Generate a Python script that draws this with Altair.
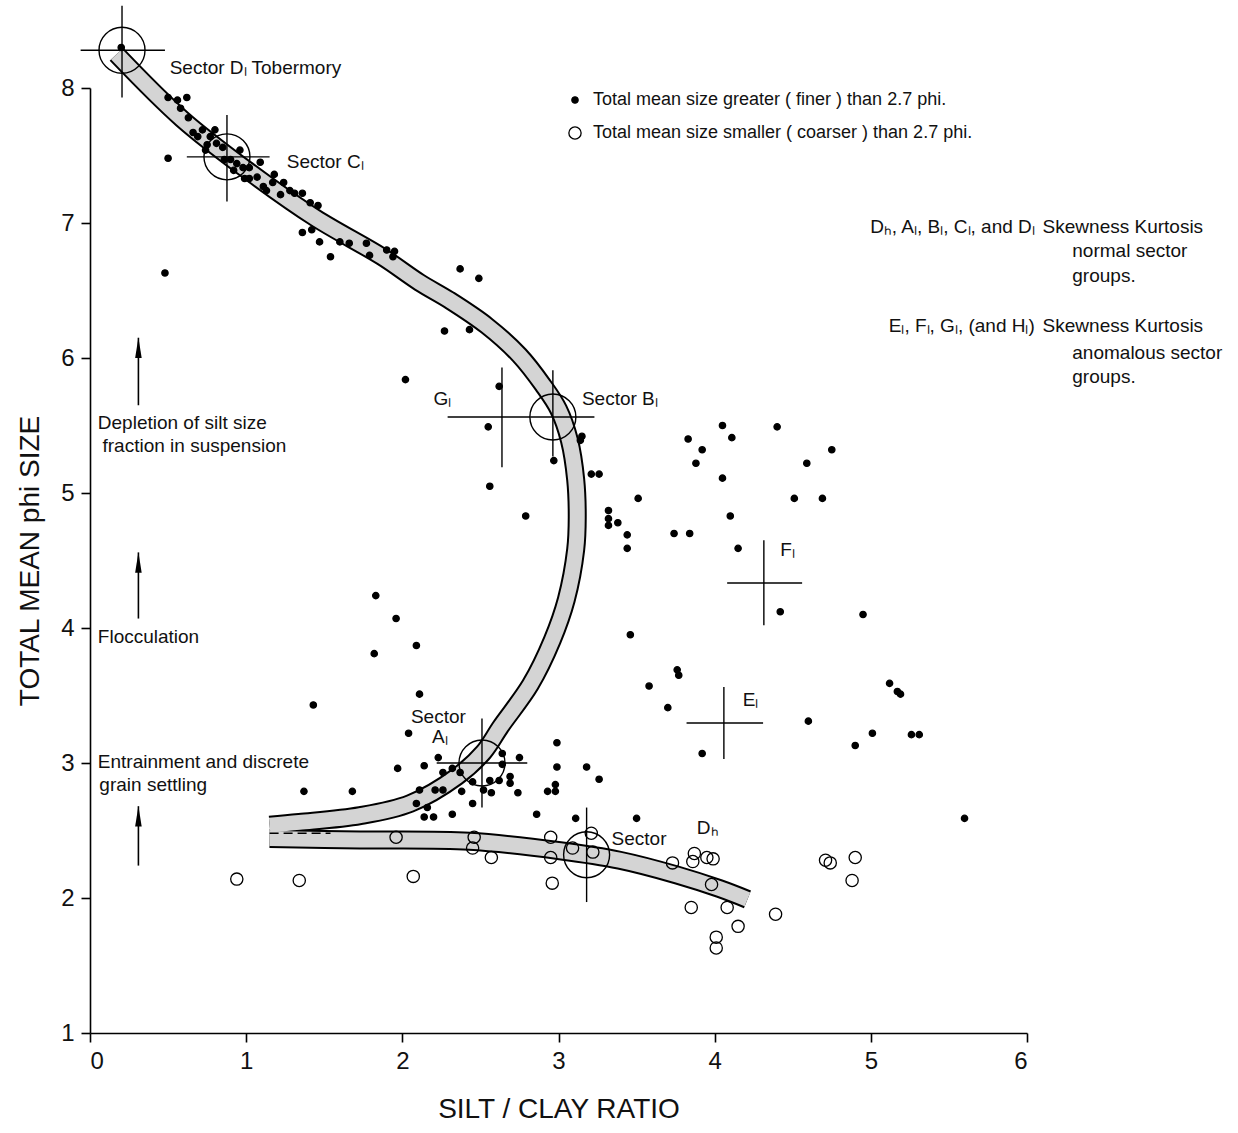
import altair as alt
import pandas as pd

FONT = "Liberation Sans"
INK = "#111111"

# ---------------- data ----------------
# samples with total mean size finer than 2.7 phi (filled dots)
fine_x = [0.20, 0.50, 0.56, 0.62, 0.58, 0.63, 0.66, 0.72, 0.77, 0.80, 0.81, 0.69, 0.75, 0.85, 0.90,
          0.94, 0.98, 1.02, 1.09, 1.07, 1.11, 1.17, 1.13, 1.24, 1.28, 1.31, 1.36, 1.41, 1.46, 1.36,
          1.42, 1.47, 1.54, 1.60, 1.66, 1.77, 1.79, 1.90, 1.95, 1.94, 0.50, 0.48, 0.96, 0.99, 1.22,
          1.18, 0.86, 0.92, 0.74, 1.02,
          2.37, 2.49, 2.27, 2.43, 2.02, 2.62, 2.55, 2.97, 3.15, 3.14, 3.21, 3.26, 2.56, 2.79, 3.51,
          3.32, 3.32, 3.32, 3.38, 3.44, 3.44, 3.74, 3.84, 3.83, 3.92, 3.88, 4.05, 4.11, 4.05, 4.10,
          4.15, 4.40, 4.59, 4.51, 4.69, 4.75, 4.42, 4.95, 3.46, 3.76, 3.77, 3.58, 3.70, 3.92, 3.26,
          3.50, 4.60, 5.12, 5.17, 5.19, 5.01, 4.90, 5.26, 5.31, 5.60,
          1.83, 1.96, 2.09, 1.82, 2.11, 1.43, 2.04, 2.23, 1.97, 2.14, 1.37, 1.68, 2.26, 2.32, 2.37,
          2.21, 2.26, 2.11, 2.09, 2.16, 2.38, 2.45, 2.52, 2.56, 2.57, 2.62, 2.64, 2.64, 2.75, 2.69,
          2.69, 2.74, 2.45, 2.32, 2.14, 2.20, 2.99, 2.99, 3.18, 2.93, 2.98, 2.98, 2.86, 3.11]
fine_y = [8.30, 7.93, 7.91, 7.93, 7.85, 7.78, 7.67, 7.69, 7.64, 7.69, 7.59, 7.64, 7.58, 7.56, 7.47,
          7.44, 7.41, 7.41, 7.45, 7.34, 7.27, 7.30, 7.24, 7.30, 7.24, 7.22, 7.22, 7.15, 7.13, 6.93,
          6.95, 6.86, 6.75, 6.86, 6.85, 6.85, 6.76, 6.80, 6.79, 6.75, 7.48, 6.63, 7.54, 7.33, 7.21,
          7.36, 7.47, 7.39, 7.54, 7.33,
          6.66, 6.59, 6.20, 6.21, 5.84, 5.79, 5.49, 5.24, 5.42, 5.39, 5.14, 5.14, 5.05, 4.83, 4.96,
          4.87, 4.81, 4.76, 4.78, 4.69, 4.59, 4.70, 4.70, 5.40, 5.32, 5.22, 5.50, 5.41, 5.11, 4.83,
          4.59, 5.49, 5.22, 4.96, 4.96, 5.32, 4.12, 4.10, 3.95, 3.69, 3.65, 3.57, 3.41, 3.07, 2.88,
          2.59, 3.31, 3.59, 3.53, 3.51, 3.22, 3.13, 3.21, 3.21, 2.59,
          4.24, 4.07, 3.87, 3.81, 3.51, 3.43, 3.22, 3.04, 2.96, 2.98, 2.79, 2.79, 2.93, 2.96, 2.93,
          2.80, 2.80, 2.80, 2.70, 2.67, 2.79, 2.86, 2.80, 2.87, 2.78, 2.87, 2.99, 3.07, 3.04, 2.90,
          2.85, 2.78, 2.70, 2.62, 2.60, 2.60, 3.15, 2.97, 2.97, 2.79, 2.79, 2.84, 2.62, 2.59]

# samples with total mean size coarser than 2.7 phi (open circles)
coarse_x = [0.94, 1.34, 1.96, 2.07, 2.46, 2.45, 2.57, 2.95, 2.95, 2.96, 3.09, 3.21, 3.22, 3.73, 3.87,
            3.86, 3.95, 3.99, 3.98, 3.85, 4.08, 4.15, 4.01, 4.01, 4.39, 4.71, 4.74, 4.90, 4.88]
coarse_y = [2.14, 2.13, 2.45, 2.16, 2.45, 2.37, 2.30, 2.45, 2.30, 2.11, 2.37, 2.48, 2.34, 2.26, 2.33,
            2.27, 2.30, 2.29, 2.10, 1.93, 1.93, 1.79, 1.71, 1.63, 1.88, 2.28, 2.26, 2.30, 2.13]

LEG_FINE = "Total mean size greater ( finer ) than  2.7 phi."
LEG_COARSE = "Total mean size smaller ( coarser ) than  2.7 phi."

# shaded trend bands (centre lines)
band_up_x = [0.17, 0.59, 1.02, 1.44, 1.87, 2.11, 2.30, 2.54, 2.75, 2.90, 3.00, 3.07, 3.11, 3.12,
             3.11, 3.05, 2.96, 2.82, 2.63, 2.52, 2.35, 2.05, 1.73, 1.34, 1.15]
band_up_y = [8.25, 7.77, 7.38, 7.04, 6.75, 6.56, 6.43, 6.24, 6.02, 5.80, 5.62, 5.39, 5.10, 4.82,
             4.58, 4.21, 3.91, 3.58, 3.27, 3.08, 2.90, 2.70, 2.61, 2.56, 2.54]
band_lo_x = [1.15, 1.73, 2.43, 3.01, 3.39, 3.76, 4.03, 4.21]
band_lo_y = [2.44, 2.43, 2.42, 2.35, 2.28, 2.17, 2.07, 1.99]
dash_x = [1.15, 1.54]
dash_y = [2.48]

# sector centres (circled)
circle_x = [0.205, 0.877, 2.964, 2.51, 3.18]
circle_y = [8.28, 7.49, 5.563, 3.0, 2.32]

# sector crosses: horizontal arms
hx1 = [-0.06, 0.62, 2.82, 2.29, 2.22, 4.08, 3.82]
hx2 = [0.48, 1.15, 3.23, 2.82, 2.80, 4.56, 4.31]
hy = [8.28, 7.49, 5.563, 5.563, 3.0, 4.333, 3.296]
# vertical arms
vx = [0.205, 0.877, 2.964, 2.638, 2.51, 3.18, 4.315, 4.059]
vy1 = [7.93, 7.16, 5.27, 5.19, 2.67, 1.97, 4.02, 3.03]
vy2 = [8.61, 7.80, 5.91, 5.93, 3.33, 2.67, 4.65, 3.563]

# in-plot labels
lab_text = ["Sector Dₗ  Tobermory", "Sector  Cₗ", "Sector Bₗ", "Gₗ", "Fₗ", "Eₗ",
            "Sector", "Aₗ", "Sector", "Dₕ"]
lab_x = [0.51, 1.26, 3.15, 2.20, 4.42, 4.18, 2.055, 2.19, 3.34, 3.886]
lab_y = [8.15, 7.45, 5.70, 5.70, 4.58, 3.47, 3.34, 3.19, 2.44, 2.52]

note_text = ["Depletion of silt size", "fraction in suspension", "Flocculation",
             "Entrainment and discrete", "grain settling"]
note_x = [0.05, 0.08, 0.05, 0.05, 0.06]
note_y = [5.52, 5.35, 3.93, 3.01, 2.84]

arrow_x = [0.31, 0.31, 0.31]
arrow_base = [5.65, 4.07, 2.24]
arrow_tip = [6.15, 4.56, 2.68]

key_left_text = ["Dₕ, Aₗ, Bₗ, Cₗ, and Dₗ", "Eₗ, Fₗ, Gₗ, (and Hₗ)"]
key_left_x = [6.05, 6.05]
key_left_y = [6.97, 6.24]
key_right_text = ["Skewness  Kurtosis", "normal sector", "groups.",
                  "Skewness  Kurtosis", "anomalous sector", "groups."]
key_right_x = [6.10, 6.29, 6.29, 6.10, 6.29, 6.29]
key_right_y = [6.97, 6.79, 6.61, 6.24, 6.04, 5.86]

# ---------------- tables ----------------
pts = pd.concat([
    pd.DataFrame({"x": fine_x, "y": fine_y, "type": LEG_FINE}),
    pd.DataFrame({"x": coarse_x, "y": coarse_y, "type": LEG_COARSE}),
])
band = pd.concat([
    pd.DataFrame({"x": band_up_x, "y": band_up_y, "i": range(len(band_up_x)), "seg": "up"}),
    pd.DataFrame({"x": band_lo_x, "y": band_lo_y, "i": range(len(band_lo_x)), "seg": "lo"}),
])
dash = pd.DataFrame({"x": [dash_x[0]], "x2": [dash_x[1]], "y": dash_y})
circles = pd.DataFrame({"x": circle_x, "y": circle_y})
harms = pd.DataFrame({"x": hx1, "x2": hx2, "y": hy})
varms = pd.DataFrame({"x": vx, "y": vy1, "y2": vy2})
labels = pd.DataFrame({"x": lab_x, "y": lab_y, "t": lab_text})
notes = pd.DataFrame({"x": note_x, "y": note_y, "t": note_text})
arrows = pd.DataFrame({"x": arrow_x, "y": arrow_base, "y2": arrow_tip})
heads = pd.DataFrame({"x": arrow_x, "y": arrow_tip})
keyl = pd.DataFrame({"x": key_left_x, "y": key_left_y, "t": key_left_text})
keyr = pd.DataFrame({"x": key_right_x, "y": key_right_y, "t": key_right_text})

# ---------------- encodings ----------------
xs = alt.Scale(domain=[0, 6], nice=False, zero=False)
ys = alt.Scale(domain=[1, 8], nice=False, zero=False)
X = alt.X("x:Q", scale=xs, axis=alt.Axis(
    values=[0, 1, 2, 3, 4, 5, 6], title="SILT / CLAY RATIO", format="d",
    labelFontSize=24, titleFontSize=28, titleFontWeight="normal", titlePadding=22,
    tickSize=9, labelPadding=7, grid=False))
Y = alt.Y("y:Q", scale=ys, axis=alt.Axis(
    values=[1, 2, 3, 4, 5, 6, 7, 8], title="TOTAL MEAN phi SIZE", format="d",
    labelFontSize=24, titleFontSize=28, titleFontWeight="normal", titlePadding=16,
    tickSize=9, labelPadding=7, grid=False))

band_outer = alt.Chart(band).mark_line(
    color="black", strokeWidth=19, strokeCap="butt", strokeJoin="round",
    interpolate="catmull-rom").encode(x=X, y=Y, order="i:Q", detail="seg:N")
band_inner = alt.Chart(band).mark_line(
    color="#d4d4d4", strokeWidth=15, strokeCap="butt", strokeJoin="round",
    interpolate="catmull-rom").encode(x=X, y=Y, order="i:Q", detail="seg:N")
dash_line = alt.Chart(dash).mark_rule(color="black", strokeWidth=1.5, strokeDash=[9, 5]).encode(
    x=X, x2="x2:Q", y=Y)
h_rules = alt.Chart(harms).mark_rule(color="black", strokeWidth=1.4).encode(x=X, x2="x2:Q", y=Y)
v_rules = alt.Chart(varms).mark_rule(color="black", strokeWidth=1.4).encode(x=X, y=Y, y2="y2:Q")
rings = alt.Chart(circles).mark_point(shape="circle", size=2116, filled=False, color="black",
                                      strokeWidth=1.4, opacity=1).encode(x=X, y=Y)

legend = alt.Legend(orient="none", legendX=476, legendY=3, title=None, labelFont=FONT,
                    labelFontSize=18, labelColor=INK, labelLimit=0, rowPadding=15,
                    labelOffset=9, symbolStrokeColor="black", symbolStrokeWidth=1.3,
                    symbolType="circle", padding=0)
dom = [LEG_FINE, LEG_COARSE]
dots = alt.Chart(pts).mark_point(shape="circle", strokeWidth=1.3, opacity=1).encode(
    x=X, y=Y,
    fill=alt.Fill("type:N", scale=alt.Scale(domain=dom, range=["black", "transparent"]), legend=legend),
    stroke=alt.Stroke("type:N", scale=alt.Scale(domain=dom, range=["black", "black"]), legend=legend),
    size=alt.Size("type:N", scale=alt.Scale(domain=dom, range=[40, 150]), legend=legend),
)

txt = dict(font=FONT, fontSize=19, color=INK, baseline="middle")
lab_layer = alt.Chart(labels).mark_text(align="left", **txt).encode(x=X, y=Y, text="t:N")
note_layer = alt.Chart(notes).mark_text(align="left", **txt).encode(x=X, y=Y, text="t:N")
keyl_layer = alt.Chart(keyl).mark_text(align="right", **txt).encode(x=X, y=Y, text="t:N")
keyr_layer = alt.Chart(keyr).mark_text(align="left", **txt).encode(x=X, y=Y, text="t:N")

arrow_shaft = alt.Chart(arrows).mark_rule(color="black", strokeWidth=1.6).encode(x=X, y=Y, y2="y2:Q")
arrow_head = alt.Chart(heads).mark_point(shape="M0,-1L0.32,1L-0.32,1Z", size=420, filled=True,
                                         color="black", opacity=1, yOffset=10).encode(x=X, y=Y)

chart = alt.layer(
    band_outer, band_inner, dash_line, h_rules, v_rules, rings, dots,
    lab_layer, note_layer, keyl_layer, keyr_layer, arrow_shaft, arrow_head,
).properties(
    width=937, height=945,
    autosize=alt.AutoSizeParams(type="none"),
    padding={"left": 90, "top": 88, "right": 211, "bottom": 100},
    background="white",
).configure_view(stroke="transparent").configure_axis(
    labelFont=FONT, titleFont=FONT, labelColor=INK, titleColor=INK,
    domainColor="black", tickColor="black", domainWidth=1.6, tickWidth=1.6,
).configure_legend(labelFont=FONT)

chart.save("out.html", embed_options={"renderer": "svg", "actions": False})
